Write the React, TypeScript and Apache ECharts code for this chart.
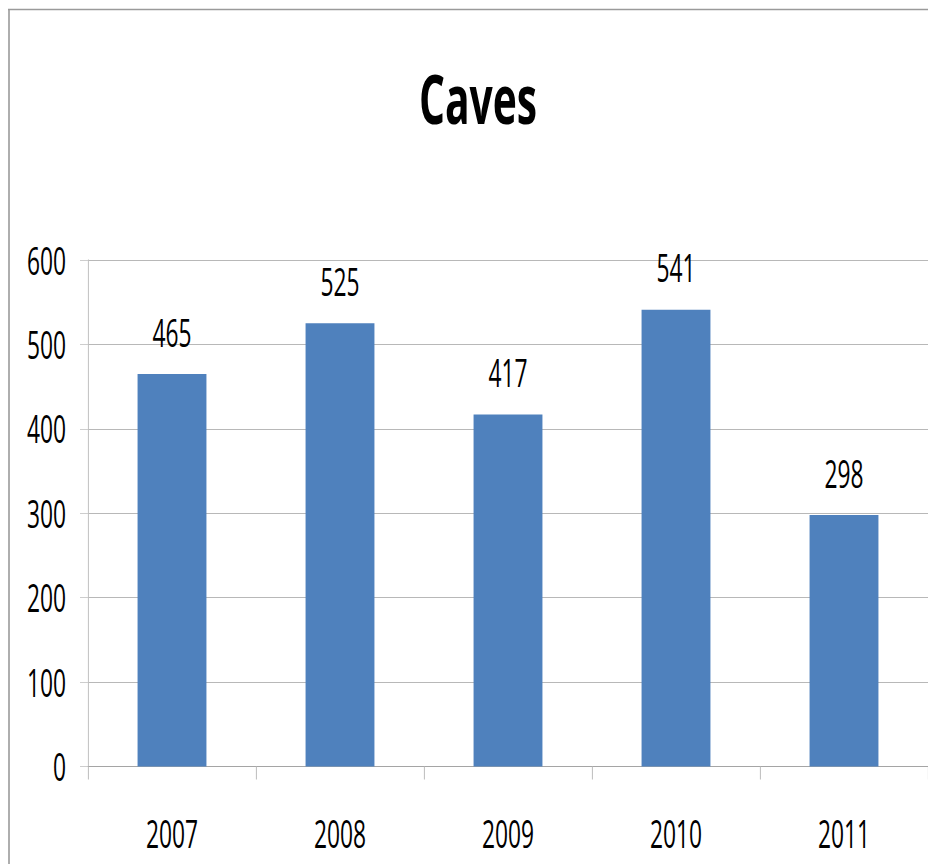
import React, { useEffect, useRef } from "react";
import * as echarts from "echarts";

const categories = ["2007", "2008", "2009", "2010", "2011"];
const values = [465, 525, 417, 541, 298];
const yMin = 0;
const yMax = 600;
const yInterval = 100;
const titleText = "Caves";

const SX = 0.6; // horizontal condensation of the whole chart (narrow lettering)
const FONT = "'Open Sans', 'Noto Sans', sans-serif";
const INNER_W = 1567;
const INNER_H = 856;

export default function App() {
  const ref = useRef<HTMLDivElement>(null);
  useEffect(() => {
    if (!ref.current) return;
    const chart = echarts.init(ref.current, undefined, { renderer: "svg" });
    const inner = (v: number) => v / SX;
    chart.setOption({
      animation: false,
      backgroundColor: "#ffffff",
      title: {
        text: titleText,
        left: inner(467),
        top: 50,
        textAlign: "center",
        textStyle: {
          fontFamily: FONT,
          fontWeight: "bold",
          fontSize: 68,
          lineHeight: 68,
          color: "#000000",
        },
      },
      graphic: [
        {
          type: "line",
          shape: { x1: 0, y1: 1.5, x2: INNER_W, y2: 1.5 },
          style: { stroke: "#9a9a9a", lineWidth: 1.6 },
          silent: true,
        },
        {
          type: "line",
          shape: { x1: inner(1), y1: 1.5, x2: inner(1), y2: INNER_H },
          style: { stroke: "#9a9a9a", lineWidth: inner(1.6) },
          silent: true,
        },
      ],
      grid: {
        left: inner(80),
        right: INNER_W - inner(920),
        top: 252,
        bottom: INNER_H - 758.5,
        containLabel: false,
      },
      xAxis: {
        type: "category",
        data: categories,
        boundaryGap: true,
        axisLine: { show: true, lineStyle: { color: "#a0a0a0", width: 1 } },
        axisTick: {
          show: true,
          alignWithLabel: false,
          length: 13,
          lineStyle: { color: "#bdbdbd", width: inner(1) },
        },
        axisLabel: {
          fontFamily: FONT,
          fontSize: 38,
          lineHeight: 38,
          color: "#000000",
          margin: 48,
        },
        splitLine: { show: false },
      },
      yAxis: {
        type: "value",
        min: yMin,
        max: yMax,
        interval: yInterval,
        axisLine: { show: true, lineStyle: { color: "#c0c0c0", width: inner(1) } },
        axisTick: {
          show: true,
          length: inner(8),
          lineStyle: { color: "#c0c0c0", width: 1 },
        },
        axisLabel: {
          fontFamily: FONT,
          fontSize: 38,
          lineHeight: 38,
          color: "#000000",
          margin: inner(22),
          padding: [6, 0, 0, 0],
        },
        splitLine: { show: true, lineStyle: { color: "#a6a6a6", width: 1 } },
      },
      series: [
        {
          type: "bar",
          data: values,
          barWidth: "41%",
          itemStyle: { color: "#4f81bd" },
          label: {
            show: true,
            position: "top",
            distance: 23,
            fontFamily: FONT,
            fontSize: 38,
            lineHeight: 38,
            color: "#000000",
          },
        },
      ],
    });
    return () => chart.dispose();
  }, []);

  return (
    <div
      style={{
        position: "fixed",
        left: 8,
        top: 8,
        width: 920,
        height: INNER_H,
        overflow: "hidden",
        background: "#ffffff",
      }}
    >
      <div
        ref={ref}
        style={{
          position: "absolute",
          left: 0,
          top: 0,
          width: INNER_W,
          height: INNER_H,
          transform: `scaleX(${SX})`,
          transformOrigin: "0 0",
        }}
      />
    </div>
  );
}
